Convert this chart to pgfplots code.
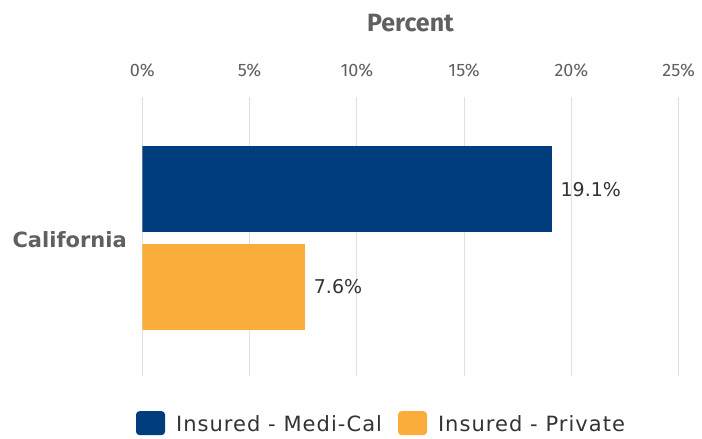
\documentclass[border=0pt]{standalone}
\usepackage{pgfplots}
\pgfplotsset{compat=1.18}
\usepackage{fontspec}
\setmainfont{DejaVu Sans}
\newfontfamily\tickfont{Fira Sans}
\newfontfamily\legfont[LetterSpace=5]{DejaVu Sans}
\definecolor{medi}{RGB}{0,61,124}
\definecolor{priv}{RGB}{251,173,59}
\definecolor{axblue}{RGB}{192,208,224}
\definecolor{gridc}{RGB}{224,224,224}
\definecolor{txt}{RGB}{96,96,96}
\definecolor{legtxt}{RGB}{51,51,51}
\begin{document}
\begin{tikzpicture}[x=1bp,y=1bp]
\path[use as bounding box] (0,0) rectangle (702,439);
\begin{axis}[
  /pgf/number format/assume math mode=true,
  at={(142.3bp,63bp)}, anchor=south west,
  scale only axis, width=536.4bp, height=279bp,
  xmin=0, xmax=25, ymin=-1, ymax=1,
  xbar, bar width=86bp,
  axis line style={draw=none},
  xtick={0,5,10,15,20,25},
  xticklabel pos=upper,
  xticklabel={\pgfmathprintnumber{\tick}\%},
  xticklabel style={font=\tickfont\fontsize{18bp}{20bp}\selectfont, text=txt, yshift=16bp},
  xmajorgrids, major grid style={draw=gridc, line width=1.2bp},
  major tick length=0pt,
  extra x ticks={0}, extra x tick labels={},
  extra x tick style={grid style={draw=axblue, line width=1.5bp}},
  ytick={0}, yticklabels={California},
  yticklabel style={font=\bfseries\fontsize{21bp}{23bp}\selectfont, text=txt, xshift=-12bp, yshift=-3bp},
  xlabel={Percent},
  xlabel style={at={(axis description cs:0.5,1)}, anchor=center, yshift=74bp,
    font=\tickfont\bfseries\fontsize{25bp}{27bp}\selectfont, text=txt},
  nodes near coords={\pgfmathprintnumber[fixed,precision=1]{\pgfplotspointmeta}\%},
  nodes near coords style={font=\fontsize{19bp}{21bp}\selectfont, text=legtxt, anchor=west, xshift=5bp},
  legend columns=2,
  legend style={at={(axis description cs:-0.0117,-0.169)}, anchor=west, draw=none, fill=none,
    inner sep=0pt, outer sep=0pt,
    font=\legfont\fontsize{21bp}{23bp}\selectfont, text=legtxt,
    /tikz/every odd column/.append style={column sep=9bp},
    /tikz/every even column/.append style={column sep=14bp}},
  legend image code/.code={\fill[#1, rounded corners=3.5bp] (0bp,-11bp) rectangle (29bp,13bp);},
]
\addplot[fill=medi, draw=none, bar shift=47bp] coordinates {(19.1,0)};
\addlegendentry{Insured - Medi-Cal}
\addplot[fill=priv, draw=none, bar shift=-50.5bp] coordinates {(7.6,0)};
\addlegendentry{Insured - Private}
\end{axis}
\end{tikzpicture}
\end{document}
